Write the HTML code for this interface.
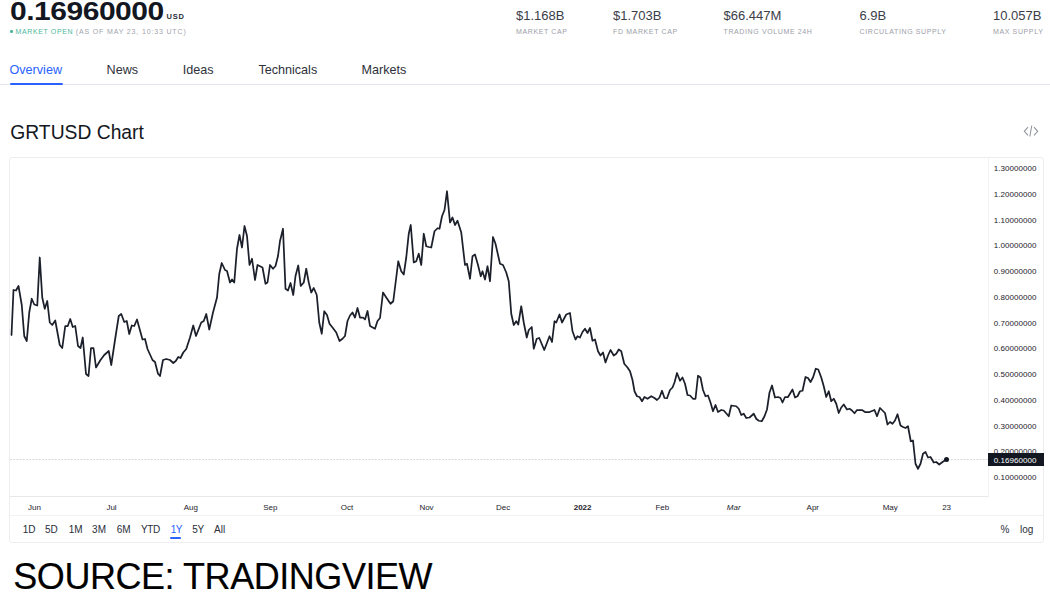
<!DOCTYPE html>
<html><head><meta charset="utf-8">
<style>
*{margin:0;padding:0;box-sizing:border-box}
html,body{width:1050px;height:600px;overflow:hidden;background:#fff}
body{position:relative;font-family:"Liberation Sans",sans-serif;color:#131722}
.a{position:absolute;white-space:nowrap}
.price{left:10px;top:-1px;font-size:25px;line-height:25px;font-weight:bold;color:#131722;transform-origin:0 0;transform:scaleX(1.2);letter-spacing:-0.4px}
.usd{left:166.5px;top:13.4px;font-size:7.5px;line-height:7.5px;font-weight:bold;color:#2a2e39;letter-spacing:0.8px}
.mo{left:15.5px;top:27.8px;font-size:7px;line-height:7px;letter-spacing:0.62px;color:#a0a3ac}
.mo .p{letter-spacing:0.85px}
.dot{position:absolute;left:10px;top:30px;width:2.6px;height:2.6px;border-radius:50%;background:#4cb89a}
.mo .g{color:#4cb89a}
.sv{font-size:13px;line-height:13px;top:8.9px;color:#3b3e48}
.sl{font-size:7px;line-height:7px;top:27.8px;color:#9b9ea8;letter-spacing:0.62px}
.tab{font-size:12.6px;line-height:12.6px;top:63.6px;color:#2e3039}
.ul{position:absolute;left:10px;top:83px;width:52.5px;height:2px;background:#2962ff;border-radius:1px}
.hl{position:absolute;left:0;top:84px;width:1050px;height:1px;background:#e3e6ee}
.h2{left:10.3px;top:122.6px;font-size:19.3px;line-height:19.3px;color:#131722}
.box{position:absolute;left:9px;top:157px;width:1035px;height:386px;border:1px solid #ededf0;border-radius:3px}
.yl{font-size:8px;line-height:8px;color:#1e222d;right:13.5px;letter-spacing:0.05px}
.xl{font-size:8px;line-height:8px;color:#1e222d;transform:translateX(-50%)}
.tb{font-size:10px;line-height:10px;top:524.5px;color:#2a2e39}
.src{left:13.3px;top:558.6px;font-size:36px;line-height:36px;color:#000;letter-spacing:-0.45px;-webkit-text-stroke:0.15px #000}
</style></head><body>
<div class="a price">0.16960000</div>
<div class="a usd">USD</div>
<div class="dot"></div>
<div class="a mo"><span class="g">MARKET OPEN</span> <span class="p">(AS OF MAY 23, 10:33 UTC)</span></div>

<div class="a sv" style="left:516px">$1.168B</div>
<div class="a sl" style="left:516px">MARKET CAP</div>
<div class="a sv" style="left:613px">$1.703B</div>
<div class="a sl" style="left:613px">FD MARKET CAP</div>
<div class="a sv" style="left:723.5px">$66.447M</div>
<div class="a sl" style="left:723.5px">TRADING VOLUME 24H</div>
<div class="a sv" style="left:859.5px">6.9B</div>
<div class="a sl" style="left:859.5px">CIRCULATING SUPPLY</div>
<div class="a sv" style="left:993px">10.057B</div>
<div class="a sl" style="left:993px">MAX SUPPLY</div>

<div class="a tab" style="left:9.5px;color:#2962ff">Overview</div>
<div class="a tab" style="left:106.6px">News</div>
<div class="a tab" style="left:182.8px">Ideas</div>
<div class="a tab" style="left:258.4px">Technicals</div>
<div class="a tab" style="left:361.6px">Markets</div>
<div class="hl"></div>
<div class="ul"></div>

<div class="a h2">GRTUSD Chart</div>
<svg class="a" style="left:1020px;top:122px" width="22" height="18" viewBox="0 0 22 18">
<path d="M8 5.2 L4.3 9.3 L8 13.3 M14 5.2 L17.7 9.3 L14 13.3 M11.8 3.5 L9.8 14.5" fill="none" stroke="#8f929b" stroke-width="1.05"/>
</svg>

<div class="box"></div>
<svg class="a" style="left:0;top:0" width="1050" height="600" viewBox="0 0 1050 600">
<line x1="988.5" y1="158" x2="988.5" y2="497" stroke="#f2f2f4" stroke-width="1"/>
<line x1="10" y1="496.5" x2="988" y2="496.5" stroke="#e8e8eb" stroke-width="1"/>
<line x1="10" y1="515.5" x2="1043" y2="515.5" stroke="#f2f2f4" stroke-width="1"/>
<line x1="10" y1="459.5" x2="988" y2="459.5" stroke="#d6d8dd" stroke-width="1" stroke-dasharray="2 1.2"/>
<path d="M11.5 335 L13.5 290 L16 290.5 L18.5 286 L21.75 305 L24.25 336 L26.75 341 L29.25 312.5 L31.75 298.75 L34.25 304.5 L37.25 305.5 L39.75 257.5 L42.25 297.5 L44.75 308.75 L47.25 301 L49.75 322.5 L52.25 325 L55.25 320.5 L59.75 345 L62.25 348 L65.25 326 L67.75 326 L70.25 319 L72.75 327 L75.25 326 L78 346 L80.5 348 L82.75 337.5 L86 374 L88.5 376 L91 348 L93.5 348 L96 367.5 L100.5 360 L104.25 355 L108.75 351 L111.25 365 L115 340 L118.75 316 L121.25 314 L124.25 322 L126.75 321 L129.25 334 L131.75 325.5 L134.25 326 L137 319.5 L142.5 339.5 L145 339 L147.5 349 L152.5 360 L155 362 L158 373.75 L160 376 L163 360 L166.25 359 L170 360 L173.25 363 L175.75 361 L178.25 357 L180.5 358 L183.25 352.5 L186.25 349 L190 337.5 L193.25 325.5 L196 336 L201.25 322.5 L203.75 321 L206.25 314 L209.25 329.5 L213 312.5 L217 297.5 L219.25 274 L221.75 263 L225 270 L227 271 L230 282.5 L232 279.5 L234.25 282.5 L237 248.75 L239.5 235 L242 247.5 L244.5 226 L247 236 L249.5 265 L252 258.75 L255 280 L257.5 265 L262.5 267.5 L265.5 283.75 L267.5 282.5 L270 265 L273 268.75 L275.5 266 L278 256 L280 241 L283 228.75 L285.5 288.75 L288 290.5 L290.5 283 L293.25 295 L295.5 276 L298.25 265.5 L300.75 286 L303.75 282.5 L306.25 268.75 L308.75 282.5 L311.25 292.5 L313.75 288 L316.75 295 L319.25 322.5 L321.75 333.75 L324.25 311.25 L327 315 L329.5 323.75 L332.5 327.5 L336.25 332.5 L339.5 341 L342.5 338.75 L345 336 L347.5 321 L350 315.5 L352.5 312.5 L355 317.5 L357.5 308 L360 317.5 L363 317.5 L365 319.5 L367.5 311 L370 326 L375 328.75 L377.5 321 L380 318 L383 292.5 L386.25 297.5 L390.5 303.75 L393.25 301.25 L396.25 277.5 L398.25 261.25 L401.25 271.25 L403.75 274.5 L406.25 257.5 L408.75 233.75 L410.75 225 L413.75 262.5 L416.25 261.25 L418.75 253.75 L421.25 265 L423.75 233.75 L426.25 246.25 L428.75 247 L431.25 247.5 L434.5 231.25 L437.5 228.25 L439.5 228.75 L442 216.25 L444.5 210 L447 191.25 L450 222.5 L452.5 217.5 L455 225 L457.5 220.75 L461.25 232.5 L465 265 L467 263.75 L470 278.75 L472.5 256.25 L475 254.5 L478 265 L480.75 276.25 L482.5 271.25 L485 279.5 L487.5 266.25 L490 281.25 L493 237 L495.5 243.75 L500 263.75 L503 265 L506.25 272.5 L508.75 281.25 L511.25 313.75 L513.75 325 L516.25 321.25 L518.25 324.5 L521.25 306.25 L523.75 322.5 L526.75 337.5 L528.75 330 L531.75 327 L533.75 348.75 L536.75 338.75 L539.25 338 L544.25 350 L549.5 336.25 L552 342 L554.5 321.25 L556.25 322.5 L559.5 314.5 L562 322.5 L566.25 314.5 L570 313 L572.5 331.25 L575.5 339.5 L577.5 336.25 L580 337.5 L582.5 332 L585 328.75 L587.5 333 L590 328 L592.5 340.75 L595 339.5 L598 351.25 L600.5 355.5 L603 352.5 L605.5 362.5 L608 355.5 L610.5 350 L613.75 355.5 L616.25 353.75 L618.75 349.5 L621.25 351.25 L624.25 363.75 L627.5 367.5 L630 371.25 L632.5 380 L634.5 391.25 L637 396.25 L639.5 397 L642 401.25 L644.5 397 L647.5 398.75 L651.25 396.25 L654.5 398 L657 400 L659.5 397.5 L662 390.75 L664.5 398 L667 398.25 L670 390 L672.5 387.5 L674.5 382.5 L677 373 L680 380.75 L682.5 377.5 L685 383.75 L687.5 395 L690 395.5 L693 398.75 L695.5 398.75 L698 375.75 L700.5 377.5 L703 390 L705.5 396.25 L708 395.5 L710.5 402.5 L713 411.25 L715.5 405 L718 412 L721.25 410 L723.75 410.5 L728.75 416.25 L731.25 405.5 L736.25 406.25 L738.75 408.75 L741.25 415 L743.75 413.75 L746.25 418 L749.5 417.5 L753.75 413.75 L756.25 418.75 L758.75 420.75 L761.75 421.25 L764.5 416.25 L767 409.5 L769.5 392.5 L772 385.5 L775 397.5 L778 397 L780.5 398 L782.5 402.5 L785 397 L788 397 L792.5 389.5 L795 397.5 L797.5 396.25 L800 391.25 L802.5 390.75 L805.5 377 L808 378 L810.5 382 L813 377.5 L815.75 368.75 L818.25 369.5 L821.25 377.5 L823.75 386.25 L826.25 397 L828.75 391.25 L831.25 401.25 L833.75 398.75 L836.25 403.75 L838.75 413 L841.25 407.5 L843.75 404.5 L847 409.5 L849.5 408.75 L852 410.5 L854.5 413.25 L857 410 L860 410 L862 410 L865 412 L869.5 412 L874.5 410 L877 416.25 L880 408 L882.5 410.5 L885 413 L887.5 424.5 L890 422 L892.5 423.75 L895 420.5 L897.5 414.25 L900.5 425.5 L903 427 L905.5 428 L908 426.25 L910.75 441.25 L913 440.5 L915.5 463.75 L918 468.75 L920.5 463.75 L923 453.75 L925.5 452 L928 457.5 L930.5 457 L933.75 462.5 L936.25 462 L939.25 464.5 L942.5 462 L946.25 459.5" fill="none" stroke="#1c202b" stroke-width="1.75" stroke-linejoin="round" stroke-linecap="round"/>
<circle cx="946.5" cy="459.5" r="2.5" fill="#131722"/>
<rect x="988" y="453" width="55.5" height="13" fill="#131722"/>
</svg>

<div class="a yl" style="top:165.1px">1.30000000</div>
<div class="a yl" style="top:190.9px">1.20000000</div>
<div class="a yl" style="top:216.6px">1.10000000</div>
<div class="a yl" style="top:242.4px">1.00000000</div>
<div class="a yl" style="top:268.1px">0.90000000</div>
<div class="a yl" style="top:293.9px">0.80000000</div>
<div class="a yl" style="top:319.6px">0.70000000</div>
<div class="a yl" style="top:345.4px">0.60000000</div>
<div class="a yl" style="top:371.1px">0.50000000</div>
<div class="a yl" style="top:396.9px">0.40000000</div>
<div class="a yl" style="top:422.6px">0.30000000</div>
<div class="a yl" style="top:448.4px">0.20000000</div>
<div class="a yl" style="top:474.1px">0.10000000</div>

<div class="a" style="left:988px;top:453px;width:55.5px;height:13px;background:#131722"></div>
<div class="a yl" style="top:456.7px;color:#fff">0.16960000</div>

<div class="a xl" style="left:34.4px;top:503.5px">Jun</div>
<div class="a xl" style="left:111.5px;top:503.5px">Jul</div>
<div class="a xl" style="left:190.9px;top:503.5px">Aug</div>
<div class="a xl" style="left:270.3px;top:503.5px">Sep</div>
<div class="a xl" style="left:346.9px;top:503.5px">Oct</div>
<div class="a xl" style="left:426.5px;top:503.5px">Nov</div>
<div class="a xl" style="left:503.1px;top:503.5px">Dec</div>
<div class="a xl" style="left:582.6px;top:503.5px;font-weight:bold">2022</div>
<div class="a xl" style="left:662.3px;top:503.5px">Feb</div>
<div class="a xl" style="left:733.7px;top:503.5px;font-style:italic">Mar</div>
<div class="a xl" style="left:812.8px;top:503.5px">Apr</div>
<div class="a xl" style="left:890.2px;top:503.5px">May</div>
<div class="a xl" style="left:946.6px;top:503.5px">23</div>

<div class="a tb" style="left:22.7px">1D</div>
<div class="a tb" style="left:44.9px">5D</div>
<div class="a tb" style="left:68.8px">1M</div>
<div class="a tb" style="left:92.1px">3M</div>
<div class="a tb" style="left:116.7px">6M</div>
<div class="a tb" style="left:141px;letter-spacing:-0.45px">YTD</div>
<div class="a tb" style="left:170.7px;color:#2962ff;letter-spacing:-0.5px">1Y</div>
<div class="a" style="left:170.3px;top:537px;width:11px;height:2px;background:#2962ff;border-radius:1px"></div>
<div class="a tb" style="left:192.3px;letter-spacing:-0.3px">5Y</div>
<div class="a tb" style="left:214px">All</div>
<div class="a tb" style="left:1000.5px">%</div>
<div class="a tb" style="left:1020px">log</div>

<div class="a src">SOURCE: TRADINGVIEW</div>
</body></html>
